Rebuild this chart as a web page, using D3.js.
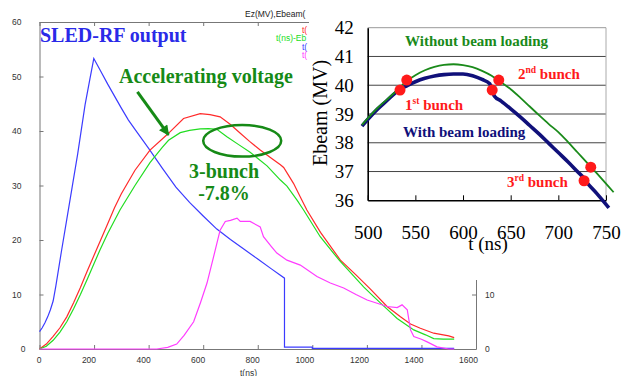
<!DOCTYPE html>
<html>
<head>
<meta charset="utf-8">
<script src="https://cdn.jsdelivr.net/npm/d3@7"></script>
<style>
  body { margin: 0; background: #fff; }
  svg { display: block; }
  .small text { font-family: 'Liberation Sans', Arial, sans-serif; font-size: 8.5px; fill: #333; }
  .small path, .small line { stroke: #777; }
  .serif { font-family: 'Liberation Serif', 'Times New Roman', serif; }
</style>
</head>
<body>
<script>
// ---- main chart data (t in ns, values in MV) ----
const mainTicksX = [0, 200, 400, 600, 800, 1000, 1200, 1400, 1600];
const mainTicksY = [0, 10, 20, 30, 40, 50, 60];

// SLED-RF output
const blueT = [0, 10, 20, 30, 40, 50, 60, 80, 100, 120, 140, 167, 185, 199, 222, 250, 300, 326, 350, 400, 450, 500, 550, 600, 650, 700, 750, 800, 850, 898, 898, 1000, 1000, 1520];
const blueV = [3.2, 3.9, 4.8, 5.9, 7.2, 8.8, 11.6, 17.8, 23.8, 29.8, 35.8, 44.8, 49.6, 53.3, 51.2, 48.6, 44.2, 42.0, 40.3, 36.8, 33.2, 29.7, 26.9, 24.4, 22.0, 20.1, 18.3, 16.5, 14.7, 13.0, 0.35, 0.35, 0.1, 0.1];

// accelerating voltage without beam
const redT = [0, 25, 50, 75, 100, 125, 150, 175, 200, 225, 250, 275, 300, 350, 405, 467, 528, 589, 625, 662, 700, 736, 770, 809, 850, 883, 895, 931, 956, 980, 1030, 1103, 1160, 1213, 1274, 1323, 1360, 1396, 1445, 1500, 1520];
const redV = [0, 0.9, 2.3, 3.9, 5.9, 8.5, 11.3, 14.3, 17.2, 20.1, 23.0, 25.9, 28.5, 32.8, 36.5, 39.3, 42.3, 43.2, 43.0, 42.6, 41.2, 39.6, 38.1, 36.5, 35.0, 33.8, 33.3, 30.4, 27.9, 25.5, 21.4, 16.3, 13.6, 11.0, 7.8, 5.9, 4.6, 3.8, 2.9, 2.4, 2.1];

// accelerating voltage with 3-bunch beam
const greenT = [0, 25, 50, 75, 100, 125, 150, 175, 200, 222, 250, 295, 350, 405, 450, 473, 516, 550, 589, 620, 650, 687, 730, 772, 834, 883, 907, 944, 968, 1029, 1100, 1188, 1225, 1270, 1311, 1372, 1415, 1445, 1480, 1520];
const greenV = [0, 0.5, 1.6, 3.1, 5.0, 7.4, 10.0, 12.8, 15.7, 18.2, 21.2, 25.5, 30.0, 34.2, 37.0, 38.3, 39.7, 40.1, 40.4, 40.45, 40.3, 38.96, 37.5, 36.1, 33.6, 31.0, 29.9, 27.3, 25.5, 20.6, 16.2, 11.4, 9.6, 7.5, 5.6, 3.5, 2.6, 1.9, 1.8, 1.8];

// beam loading signal
const magT = [0, 430, 470, 503, 530, 565, 590, 614, 638, 662, 681, 700, 724, 736, 772, 809, 821, 850, 870, 907, 956, 1017, 1066, 1115, 1160, 1201, 1274, 1311, 1329, 1348, 1360, 1372, 1400, 1421, 1457, 1500, 1520];
const magV = [0, 0, 0.3, 0.9, 2.5, 5.0, 8.5, 12.1, 16.9, 21.8, 23.4, 23.6, 24.0, 23.4, 23.4, 22.4, 20.6, 18.8, 17.6, 16.3, 15.4, 13.3, 12.1, 11.2, 10.0, 9.0, 7.8, 7.6, 8.1, 7.2, 3.5, 2.3, 1.8, 1.3, 0.4, 0, 0];

// ---- inset data ----
const insetTicksX = [500, 550, 600, 650, 700, 750];
const insetTicksY = [36, 37, 38, 39, 40, 41, 42];

const noLoadT = [494, 500, 510, 520, 530, 540, 550, 560, 570, 580, 590, 600, 610, 620, 630, 640, 650, 660, 670, 680, 690, 700, 710, 720, 730, 740, 750, 758];
const noLoadV = [38.62, 38.85, 39.2, 39.5, 39.8, 40.12, 40.35, 40.52, 40.64, 40.71, 40.73, 40.70, 40.63, 40.5, 40.33, 40.1, 39.86, 39.57, 39.26, 38.95, 38.65, 38.37, 38.03, 37.67, 37.31, 36.95, 36.58, 36.28];

const loadT = [494, 500, 510, 520, 530, 534, 540, 550, 560, 570, 580, 590, 600, 610, 620, 628, 633, 640, 650, 660, 670, 680, 690, 700, 710, 720, 727, 730, 740, 750, 753];
const loadV = [38.58, 38.81, 39.16, 39.46, 39.76, 39.86, 39.96, 40.12, 40.24, 40.32, 40.37, 40.39, 40.39, 40.33, 40.2, 40.05, 39.62, 39.45, 39.18, 38.9, 38.6, 38.3, 37.98, 37.66, 37.34, 37.0, 36.76, 36.62, 36.25, 35.86, 35.74];

const bunchT = [533.9, 541, 630.6, 637.5, 727, 734];
const bunchV = [39.83, 40.18, 39.83, 40.18, 36.68, 37.15];

// legend entries, only their start shows left of the inset
const legendNames = ['t(', 't(ns)-Eb', 't(', 't('];

const W = 622, H = 376;
const svg = d3.select('body').append('svg').attr('width', W).attr('height', H);

// ---------- main chart ----------
const x = d3.scaleLinear().domain([0, 1600]).range([39.5, 476]);
const y = d3.scaleLinear().domain([0, 60]).range([349, 22]);

const small = svg.append('g').attr('class', 'small');

small.append('g')
  .attr('transform', 'translate(0,349)')
  .call(d3.axisBottom(x).tickValues(mainTicksX).tickFormat(d3.format('d')).tickSize(-4).tickSizeOuter(0).tickPadding(8))
  .selectAll('text').attr('text-anchor', 'end').attr('dx', 1.5);

small.append('g')
  .attr('transform', 'translate(0,22)')
  .call(d3.axisTop(x).tickValues(mainTicksX).tickSize(-4).tickSizeOuter(0).tickFormat(''));

small.append('g')
  .attr('transform', 'translate(39.5,0)')
  .call(d3.axisLeft(y).tickValues(mainTicksY).tickSize(-4).tickSizeOuter(0).tickPadding(18))
  .selectAll('text').attr('dx', d => d === 0 ? 4 : 0);

small.append('g')
  .attr('transform', 'translate(476,0)')
  .call(d3.axisRight(y).tickValues(mainTicksY).tickSize(-4).tickSizeOuter(0).tickPadding(9));

small.append('text').attr('x', 240).attr('y', 376).text('t(ns)');
small.append('text').attr('x', 245).attr('y', 17).style('fill', '#222').text('Ez(MV),Ebeam(');

const legColors = ['#ff2a2a', '#22dd22', '#3b3bff', '#ff3cff'];
const legX = [302, 276, 302, 302];
legendNames.forEach((n, i) => {
  small.append('text').attr('x', legX[i]).attr('y', 33 + i * 8.4)
    .style('fill', legColors[i]).text(n);
});

const line = d3.line().x(d => x(d[0])).y(d => y(d[1]));
const series = [
  [blueT, blueV, '#3b3bff'],
  [redT, redV, '#ff2a2a'],
  [greenT, greenV, '#22dd22'],
  [magT, magV, '#ff3cff']
];
series.forEach(([ts, vs, c]) => {
  svg.append('path')
    .datum(ts.map((t, i) => [t, vs[i]]))
    .attr('d', line)
    .attr('fill', 'none')
    .attr('stroke', c)
    .attr('stroke-width', 1.2);
});

// annotations
const green = '#168a16';
svg.append('text').attr('class', 'serif').attr('x', 40).attr('y', 42)
  .attr('font-size', 20).attr('font-weight', 'bold').attr('fill', '#2a2ae8').text('SLED-RF output');
svg.append('text').attr('class', 'serif').attr('x', 119).attr('y', 83)
  .attr('font-size', 20).attr('font-weight', 'bold').attr('fill', green).text('Accelerating voltage');
svg.append('text').attr('class', 'serif').attr('x', 224).attr('y', 178).attr('text-anchor', 'middle')
  .attr('font-size', 20).attr('font-weight', 'bold').attr('fill', green).text('3-bunch');
svg.append('text').attr('class', 'serif').attr('x', 224).attr('y', 200).attr('text-anchor', 'middle')
  .attr('font-size', 20).attr('font-weight', 'bold').attr('fill', green).text('-7.8%');

svg.append('defs').append('marker')
  .attr('id', 'ah').attr('viewBox', '0 0 10 10').attr('refX', 9).attr('refY', 5)
  .attr('markerWidth', 4).attr('markerHeight', 3.4).attr('orient', 'auto')
  .append('path').attr('d', 'M0,0L10,5L0,10Z').attr('fill', green);
svg.append('line')
  .attr('x1', x(359)).attr('y1', y(47.2)).attr('x2', x(473)).attr('y2', y(39.3))
  .attr('stroke', green).attr('stroke-width', 3).attr('marker-end', 'url(#ah)');

svg.append('ellipse')
  .attr('cx', x(743)).attr('cy', y(38.2))
  .attr('rx', x(743) - x(600)).attr('ry', y(35.3) - y(38.2))
  .attr('fill', 'none').attr('stroke', green).attr('stroke-width', 2.5);

// ---------- inset ----------
svg.append('path').attr('d', 'M309,0H622V280H380V205H309Z').attr('fill', '#fff');

const xi = d3.scaleLinear().domain([500, 750]).range([367.7, 606]);
const yi = d3.scaleLinear().domain([36, 42]).range([200.3, 27.7]);
const inset = svg.append('g').attr('class', 'serif');

inset.selectAll('.grid').data(insetTicksY.slice(1, -1)).join('line')
  .attr('x1', xi(500)).attr('x2', xi(750)).attr('y1', d => yi(d)).attr('y2', d => yi(d))
  .attr('stroke', '#444').attr('stroke-width', 1);
inset.append('line').attr('x1', xi(500)).attr('x2', xi(750)).attr('y1', yi(42)).attr('y2', yi(42))
  .attr('stroke', '#999');
inset.append('line').attr('x1', xi(750)).attr('x2', xi(750)).attr('y1', yi(42)).attr('y2', yi(36))
  .attr('stroke', '#aaa');

const xAxisI = inset.append('g').attr('transform', `translate(0,${yi(36)})`)
  .call(d3.axisBottom(xi).tickValues(insetTicksX).tickFormat(d3.format('d')).tickSize(-5).tickSizeOuter(0));
xAxisI.select('.domain').attr('stroke', '#000').attr('stroke-width', 1.6);
xAxisI.selectAll('line').attr('stroke', '#000');
xAxisI.selectAll('text').attr('dy', null).attr('y', 39)
  .attr('font-size', 19).attr('font-family', 'Liberation Serif').attr('fill', '#000');

const yAxisI = inset.append('g').attr('transform', `translate(${xi(500)},0)`)
  .call(d3.axisLeft(yi).tickValues(insetTicksY).tickFormat(d3.format('d')).tickSize(0).tickSizeOuter(0).tickPadding(14));
yAxisI.select('.domain').attr('stroke', '#000').attr('stroke-width', 1.6);
yAxisI.selectAll('text').attr('font-size', 19).attr('font-family', 'Liberation Serif').attr('fill', '#000');

inset.append('text').attr('x', 488).attr('y', 250).attr('text-anchor', 'middle')
  .attr('font-size', 19).text('t (ns)');
inset.append('text').attr('transform', 'translate(327,113) rotate(-90)').attr('text-anchor', 'middle')
  .attr('font-size', 20).text('Ebeam (MV)');

const lineI = d3.line().x(d => xi(d[0])).y(d => yi(d[1])).curve(d3.curveMonotoneX);
inset.append('path').datum(loadT.map((t, i) => [t, loadV[i]])).attr('d', lineI)
  .attr('fill', 'none').attr('stroke', '#10107a').attr('stroke-width', 3.6);
inset.append('path').datum(noLoadT.map((t, i) => [t, noLoadV[i]])).attr('d', lineI)
  .attr('fill', 'none').attr('stroke', '#1a8a1a').attr('stroke-width', 1.8);

inset.selectAll('circle').data(bunchT).join('circle')
  .attr('cx', d => xi(d)).attr('cy', (d, i) => yi(bunchV[i])).attr('r', 5.5).attr('fill', '#ff1a1a');

inset.append('text').attr('x', 405).attr('y', 46).attr('font-size', 15).attr('font-weight', 'bold')
  .attr('fill', '#1a8a1a').text('Without beam loading');
inset.append('text').attr('x', 403).attr('y', 137).attr('font-size', 15).attr('font-weight', 'bold')
  .attr('fill', '#10107a').text('With beam loading');

function bunchLabel(px, py, num, sup) {
  const t = inset.append('text').attr('x', px).attr('y', py).attr('font-size', 15)
    .attr('font-weight', 'bold').attr('fill', '#ff1a1a');
  t.append('tspan').text(num);
  t.append('tspan').attr('font-size', 9.5).attr('dy', -6).text(sup);
  t.append('tspan').attr('dy', 6).text(' bunch');
}
bunchLabel(405, 110, '1', 'st');
bunchLabel(518, 79, '2', 'nd');
bunchLabel(507, 187, '3', 'rd');
</script>
</body>
</html>
